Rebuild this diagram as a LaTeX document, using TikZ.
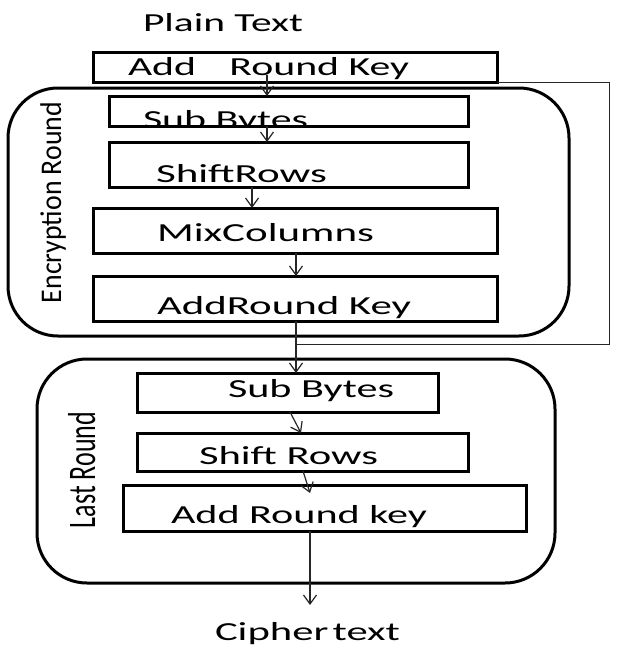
\documentclass[tikz,border=0pt]{standalone}
\usepackage{fontspec}
\setmainfont{Carlito}
\usepackage{graphicx}
\usetikzlibrary{arrows.meta}
\tikzset{
  stepbox/.style={draw=black, line width=3pt, inner sep=0pt, outer sep=0pt, anchor=north west},
  roundbox/.style={draw=black, line width=3pt, rounded corners=50pt, inner sep=0pt, outer sep=0pt, anchor=north west},
  conn/.style={draw=black!85, line width=1.2pt},
  arr/.style={conn, -{Straight Barb[length=9pt,width=13pt,line width=1.2pt]}},
  lbl/.style={inner sep=0pt, outer sep=0pt, anchor=base west, font=\fontsize{26pt}{30pt}\selectfont},
}
\newcommand{\wtxt}[2]{\resizebox{#1pt}{\height}{#2}}
\begin{document}
\begin{tikzpicture}[x=1pt,y=-1pt]
\path[fill=white, use as bounding box] (0,0) rectangle (618,648);

% round groups
\node[roundbox, minimum width=561pt, minimum height=248pt] (enc) at (8,88) {};
\node[roundbox, minimum width=518pt, minimum height=224pt] (last) at (37,359) {};

% boxes
\node[stepbox, minimum width=404pt, minimum height=30pt] (ark0) at (93,52) {};
\node[stepbox, minimum width=359pt, minimum height=30pt] (sb1) at (109,96) {};
\node[stepbox, minimum width=359pt, minimum height=45pt] (sr1) at (109,142) {};
\node[stepbox, minimum width=404pt, minimum height=45pt] (mc) at (93,208) {};
\node[stepbox, minimum width=404pt, minimum height=45pt] (ark1) at (93,276) {};
\node[stepbox, minimum width=301pt, minimum height=39pt] (sb2) at (137,373) {};
\node[stepbox, minimum width=331pt, minimum height=38pt] (sr2) at (137,433) {};
\node[stepbox, minimum width=403pt, minimum height=46pt] (ark2) at (123,485) {};

% texts
\node[lbl] (tpt) at (143,31) {\wtxt{160}{Plain Text}};
\node[lbl] (t0) at (128,75) {\wtxt{281}{Add\hspace{0.8em}Round Key}};
\begin{scope}
  \clip (sb1.north west) rectangle (sb1.south east);
  \node[lbl] (t1) at (143,128) {\wtxt{165}{Sub Bytes}};
\end{scope}
\node[lbl] (t2) at (156,182) {\wtxt{171}{ShiftRows}};
\node[lbl] (t3) at (157,241) {\wtxt{217}{MixColumns}};
\node[lbl] (t4) at (157,314) {\wtxt{254}{AddRound Key}};
\node[lbl] (t5) at (228,397) {\wtxt{166}{Sub Bytes}};
\node[lbl] (t6) at (199,464) {\wtxt{179}{Shift Rows}};
\node[lbl] (t7) at (171,523) {\wtxt{256}{Add Round key}};
\node[lbl] (t8) at (215,640) {\wtxt{185}{Cipher\hspace{0.1em}text}};

\node[inner sep=0pt, outer sep=0pt, rotate=90, anchor=base west, font=\fontsize{30pt}{34pt}\selectfont] (encl) at (61,303) {\wtxt{201}{Encryption Round}};
\node[inner sep=0pt, outer sep=0pt, rotate=90, anchor=base west, font=\fontsize{39pt}{44pt}\selectfont] (lastl) at (95,528) {\wtxt{116}{Last Round}};

% connectors
\draw[arr] ([xshift=-28pt,yshift=7pt]ark0.south) -- ([xshift=-21.5pt]sb1.north);
\draw[arr] ([xshift=-21.5pt]sb1.south) -- ([xshift=-21.5pt]sr1.north);
\draw[arr] ([xshift=-36.5pt]sr1.south) -- ([xshift=-43pt]mc.north);
\draw[arr] ([xshift=1pt]mc.south) -- ([xshift=1pt]ark1.north);
\draw[arr] ([xshift=1pt]ark1.south) -- ([xshift=8.5pt]sb2.north);
\draw[arr] ([xshift=2.5pt]sb2.south) -- ([xshift=-1.5pt]sr2.north);
\draw[arr] ([xshift=0.5pt]sr2.south) -- ([xshift=-14.5pt,yshift=-8pt]ark2.north);
\coordinate (ctend) at (310,605);
\draw[arr] ([xshift=-14.5pt]ark2.south) -- (ctend);

% loop back
\coordinate (lp) at (609,344);
\coordinate (jn) at (296,344);
\draw[conn, line width=1pt] (ark0.south east) -| (lp) -- (jn);
\end{tikzpicture}
\end{document}
